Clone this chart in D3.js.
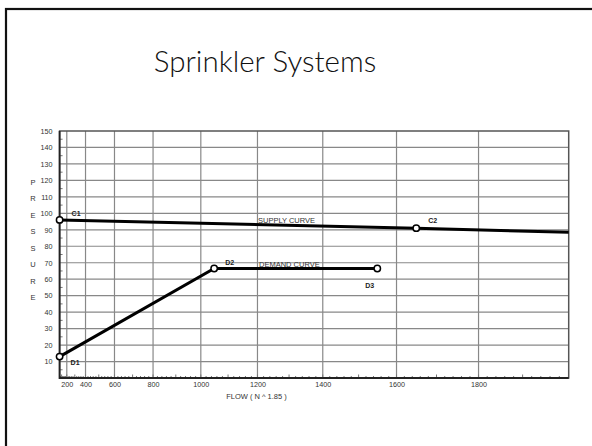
<!DOCTYPE html>
<html lang="en">
<head>
  <meta charset="UTF-8">
  <title>Sprinkler Systems</title>
  <style>
    body { margin: 0; background: #fff; }
    svg { display: block; }
  </style>
</head>
<body>
  <script src="https://d3js.org/d3.v7.min.js"></script>
  <div id="chart"></div>

  <script>
    // chart values
    const yTicks = [10, 20, 30, 40, 50, 60, 70, 80, 90, 100, 110, 120, 130, 140, 150]
    const xTicks = [200, 400, 600, 800, 1000, 1200, 1400, 1600, 1800]
    const yTitle = ['P', 'R', 'E', 'S', 'S', 'U', 'R', 'E']
    const yTitleAt = [120, 110, 100, 90, 80, 70, 60, 50]

    const supplyFlow = [0, 1650, 2000]
    const supplyPressure = [96, 91, 88.5]
    const demandFlow = [0, 1050, 1550]
    const demandPressure = [13, 66.5, 66.5]

    const pointNames = ['C1', 'C2', 'D1', 'D2', 'D3']
    const pointFlow = [0, 1650, 0, 1050, 1550]
    const pointPressure = [96, 91, 13, 66.5, 66.5]

    const width = 592
    const height = 446

    const svg = d3.select('#chart')
      .append('svg')
      .attr('width', width)
      .attr('height', height)

    // slide frame and title
    svg.append('rect')
      .attr('x', 6).attr('y', 9)
      .attr('width', 640).attr('height', 480)
      .attr('fill', 'none')
      .attr('stroke', '#111')
      .attr('stroke-width', 2.2)

    svg.append('text')
      .attr('x', 265).attr('y', 72)
      .attr('text-anchor', 'middle')
      .style('font-family', 'Lato, "Open Sans", sans-serif')
      .style('font-weight', 300)
      .style('font-size', '29.5px')
      .attr('fill', '#111')
      .text('Sprinkler Systems')

    // hydraulic graph paper: flow on an N^1.85 scale
    const x = d3.scalePow().exponent(1.85)
      .domain([0, 2000])
      .range([59.6, 568.7])

    const y = d3.scaleLinear()
      .domain([0, 150])
      .range([378, 131])

    const plot = svg.append('g')
    const font = 'Arial, "Liberation Sans", sans-serif'

    // grid
    plot.selectAll('.hgrid')
      .data(yTicks.filter(d => d < 150))
      .join('line')
      .attr('x1', x(0)).attr('x2', x(2000))
      .attr('y1', d => y(d)).attr('y2', d => y(d))
      .attr('stroke', '#888')
      .attr('stroke-width', 1.2)

    plot.selectAll('.vgrid')
      .data(xTicks)
      .join('line')
      .attr('x1', d => x(d)).attr('x2', d => x(d))
      .attr('y1', y(0)).attr('y2', y(150))
      .attr('stroke', '#888')
      .attr('stroke-width', 1.2)

    // minor ticks
    plot.selectAll('.ytick')
      .data(d3.range(5, 150, 10))
      .join('line')
      .attr('x1', x(0)).attr('x2', x(0) + 3)
      .attr('y1', d => y(d)).attr('y2', d => y(d))
      .attr('stroke', '#777')

    plot.selectAll('.xtick')
      .data(d3.range(20, 2000, 20))
      .join('line')
      .attr('x1', d => x(d)).attr('x2', d => x(d))
      .attr('y1', y(0)).attr('y2', d => y(0) - (d % 100 === 0 ? 3.5 : 2))
      .attr('stroke', '#777')

    // frame
    plot.append('rect')
      .attr('x', x(0)).attr('y', y(150))
      .attr('width', x(2000) - x(0)).attr('height', y(0) - y(150))
      .attr('fill', 'none')
      .attr('stroke', '#555')
      .attr('stroke-width', 1.5)

    plot.append('path')
      .attr('d', `M${x(0)},${y(150)}V${y(0)}H${x(2000)}`)
      .attr('fill', 'none')
      .attr('stroke', '#222')
      .attr('stroke-width', 1.8)

    // axis labels
    const yAxis = plot.append('g')
      .attr('transform', `translate(${x(0) - 7},0)`)
      .call(d3.axisLeft(y).tickValues(yTicks).tickSize(0).tickPadding(0))
    yAxis.select('.domain').remove()
    yAxis.selectAll('text')
      .style('font-family', font)
      .style('font-size', '7.2px')
      .attr('fill', '#333')

    const xAxis = plot.append('g')
      .attr('transform', `translate(0,${y(0) + 4})`)
      .call(d3.axisBottom(x).tickValues(xTicks).tickSize(0).tickPadding(0).tickFormat(d3.format('d')))
    xAxis.select('.domain').remove()
    xAxis.selectAll('text')
      .style('font-family', font)
      .style('font-size', '7.2px')
      .attr('fill', '#333')

    plot.append('text')
      .attr('x', x(1200) - 1).attr('y', 399)
      .attr('text-anchor', 'middle')
      .style('font-family', font)
      .style('font-size', '7.5px')
      .attr('fill', '#333')
      .text('FLOW ( N ^ 1.85 )')

    plot.selectAll('.ytitle')
      .data(yTitle)
      .join('text')
      .attr('x', 33)
      .attr('y', (d, i) => y(yTitleAt[i]) + 4.5)
      .attr('text-anchor', 'middle')
      .style('font-family', font)
      .style('font-size', '7.5px')
      .attr('fill', '#333')
      .text(d => d)

    // curves
    const line = d3.line()
      .x(d => x(d[0]))
      .y(d => y(d[1]))

    plot.append('path')
      .datum(d3.zip(supplyFlow, supplyPressure))
      .attr('d', line)
      .attr('fill', 'none')
      .attr('stroke', '#000')
      .attr('stroke-width', 3)

    plot.append('path')
      .datum(d3.zip(demandFlow, demandPressure))
      .attr('d', line)
      .attr('fill', 'none')
      .attr('stroke', '#000')
      .attr('stroke-width', 3)

    plot.append('text')
      .attr('x', x(1200) + 0.5).attr('y', y(supplyPressure[0]) + 3)
      .style('font-family', font)
      .style('font-size', '7.5px')
      .attr('fill', '#333')
      .text('SUPPLY CURVE')

    plot.append('text')
      .attr('x', x(1200) + 1.5).attr('y', y(demandPressure[2]) - 1.5)
      .style('font-family', font)
      .style('font-size', '7.5px')
      .attr('fill', '#333')
      .text('DEMAND CURVE')

    // points and their names
    const labelOffset = { C1: [12, -4], C2: [12, -5], D1: [11, 8], D2: [11, -3.5], D3: [-12, 20] }

    plot.selectAll('.pt')
      .data(pointNames)
      .join('circle')
      .attr('cx', (d, i) => x(pointFlow[i]))
      .attr('cy', (d, i) => y(pointPressure[i]))
      .attr('r', 3.2)
      .attr('fill', '#fff')
      .attr('stroke', '#000')
      .attr('stroke-width', 1.5)

    plot.selectAll('.ptlabel')
      .data(pointNames)
      .join('text')
      .attr('x', (d, i) => x(pointFlow[i]) + labelOffset[d][0])
      .attr('y', (d, i) => y(pointPressure[i]) + labelOffset[d][1])
      .style('font-family', font)
      .style('font-size', '7px')
      .style('font-weight', 'bold')
      .attr('fill', '#222')
      .text(d => d)
  </script>
</body>
</html>
